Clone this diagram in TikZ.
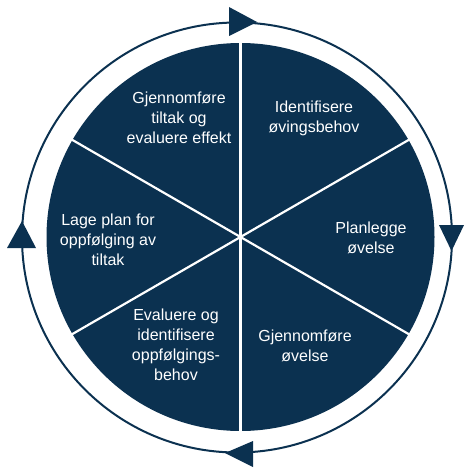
\documentclass[tikz,border=0pt]{standalone}
\usepackage{fontspec}
\setmainfont{Liberation Sans}
\definecolor{navy}{HTML}{0B3150}
\begin{document}
\begin{tikzpicture}[x=1pt,y=-1pt,
  txt/.style={text=white, align=center, font=\fontsize{16}{20}\selectfont, inner sep=0pt},
  ringline/.style={draw=navy, line width=2pt},
  tiptri/.style={fill=navy},
  divider/.style={draw=white, line width=2.2pt}]
\useasboundingbox (0,0) rectangle (464,468);
\coordinate (c) at (240.5,237);
\coordinate (rc) at (237,237.5);
\fill[navy] (c) circle[radius=194];
\foreach \a in {90,30,-30,-90,-150,150} \draw[divider] (c) -- ++(\a:196);
\draw[ringline] (rc) circle[radius=215];
\fill[tiptri] (229,7) -- (257,22) -- (229,36) -- cycle;
\fill[tiptri] (439,225) -- (464,225) -- (451.5,251) -- cycle;
\fill[tiptri] (7,248) -- (36,248) -- (22,221) -- cycle;
\fill[tiptri] (253,441) -- (253,467) -- (225,453) -- cycle;
\node[txt] (s1) at (314,118) {Identifisere\\øvingsbehov};
\node[txt] (s2) at (371,238) {Planlegge\\øvelse};
\node[txt] (s3) at (305,346) {Gjennomføre\\øvelse};
\node[txt] (s4) at (176,345) {Evaluere og\\identifisere\\oppfølgings-\\behov};
\node[txt] (s5) at (108,240) {Lage plan for\\oppfølging av\\tiltak};
\node[txt] (s6) at (179,118) {Gjennomføre\\tiltak og\\evaluere effekt};
\end{tikzpicture}
\end{document}
